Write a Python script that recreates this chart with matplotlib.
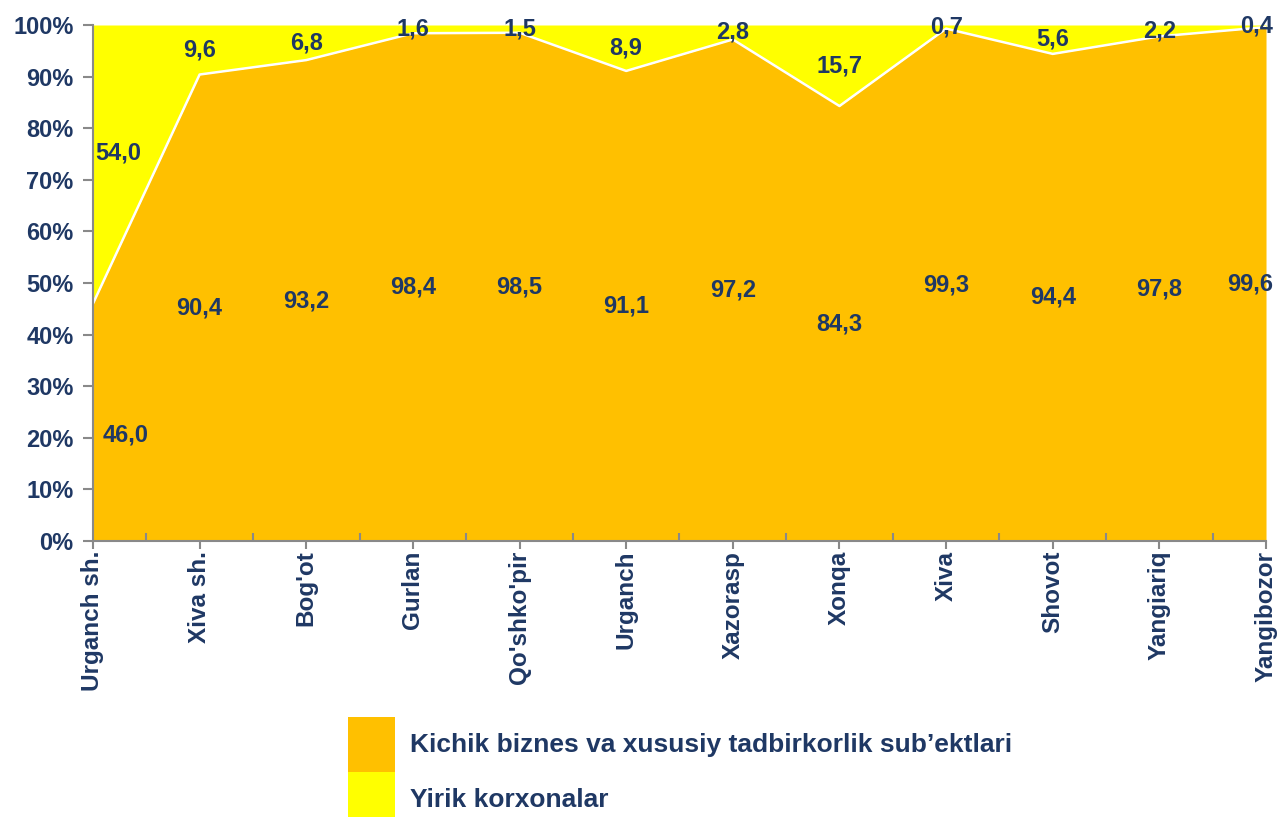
import numpy as np
import matplotlib
matplotlib.use("Agg")
import matplotlib.pyplot as plt
from matplotlib.patches import Patch
from matplotlib.ticker import FixedLocator

plt.rcParams['font.family'] = ['Liberation Sans', 'DejaVu Sans']
plt.rcParams['font.weight'] = 'bold'

districts = ["Urganch sh.", "Xiva sh.", "Bog'ot", "Gurlan", "Qo'shko'pir", "Urganch",
             "Xazorasp", "Xonqa", "Xiva", "Shovot", "Yangiariq", "Yangibozor"]
small_biz = [46.0, 90.4, 93.2, 98.4, 98.5, 91.1, 97.2, 84.3, 99.3, 94.4, 97.8, 99.6]
large_ent = [54.0, 9.6, 6.8, 1.6, 1.5, 8.9, 2.8, 15.7, 0.7, 5.6, 2.2, 0.4]
legend_labels = ["Kichik biznes va xususiy tadbirkorlik sub\u2019ektlari", "Yirik korxonalar"]

navy = '#1F3864'
orange = '#FFC000'
yellow = '#FFFF00'
grey = '#898989'

x = np.arange(len(districts))
small = np.array(small_biz)
large = np.array(large_ent)

fig = plt.figure(figsize=(12.77, 8.17), dpi=100)
ax = fig.add_axes([0.0728, 0.3378, 0.9186, 0.6316])

ax.fill_between(x, 0, small, color=orange, linewidth=0)
ax.fill_between(x, small, small + large, color=yellow, linewidth=0)
ax.plot(x, small, color='white', linewidth=1.8)

ax.set_xlim(0, len(districts) - 1)
ax.set_ylim(0, 100)


def fmt(v):
    return f"{v:.1f}".replace('.', ',')


last = len(districts) - 1
for i in range(len(districts)):
    ha, dx = 'center', 0
    dy_low, dy_top = 0, 0
    if i == 0:
        ha, dx = 'left', 7
        dy_low, dy_top = -9, 8
    elif i == last:
        ha, dx = 'right', 5
    ax.annotate(fmt(small[i]), (x[i], small[i] / 2),
                xytext=(dx, dy_low), textcoords='offset points', ha=ha, va='center',
                fontsize=17, color=navy, fontweight='bold')
    ax.annotate(fmt(large[i]), (x[i], small[i] + large[i] / 2),
                xytext=(dx if i else 2, dy_top), textcoords='offset points', ha=ha, va='center',
                fontsize=17, color=navy, fontweight='bold', annotation_clip=False)

ax.set_yticks(np.arange(0, 101, 10))
ax.set_yticklabels([f"{v}%" for v in range(0, 101, 10)], fontsize=17, color=navy, fontweight='bold')
ax.set_xticks(x)
ax.set_xticklabels(districts, rotation=90, fontsize=17.5, color=navy, fontweight='bold')
ax.xaxis.set_minor_locator(FixedLocator(x[:-1] + 0.5))
ax.tick_params(axis='x', which='major', direction='out', length=6, color=grey, width=1.5, pad=1)
ax.tick_params(axis='x', which='minor', direction='in', length=6, color=grey, width=1.5)
ax.tick_params(axis='y', direction='out', length=7, color=grey, width=1.5, pad=7)

for s in ['top', 'right']:
    ax.spines[s].set_visible(False)
for s in ['left', 'bottom']:
    ax.spines[s].set_color(grey)
    ax.spines[s].set_linewidth(1.5)

handles = [Patch(facecolor=orange, edgecolor='none'), Patch(facecolor=yellow, edgecolor='none')]
fig.legend(handles, legend_labels,
           loc='upper left', bbox_to_anchor=(0.254, 0.151), frameon=False,
           prop={'size': 19, 'weight': 'bold'}, labelcolor=navy,
           handlelength=1.78, handleheight=2.8, labelspacing=0.0, handletextpad=0.57)

fig.savefig("out.png", dpi=100)
